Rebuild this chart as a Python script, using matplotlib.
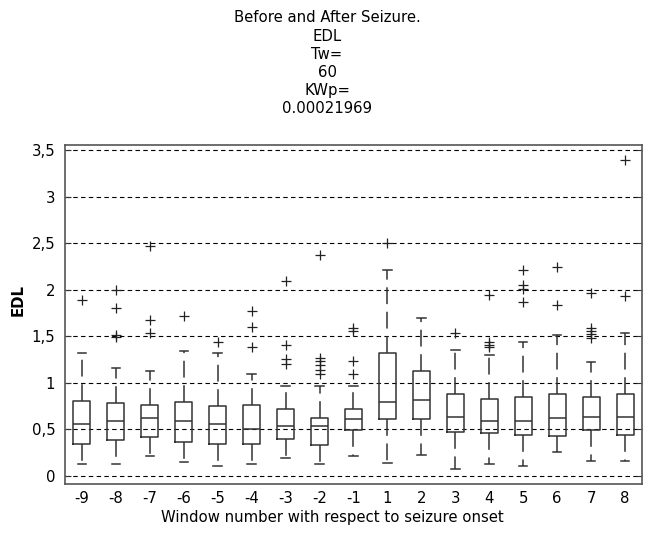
import matplotlib
matplotlib.use("Agg")
import matplotlib.pyplot as plt
from matplotlib import font_manager

# ---------------- data ----------------
windows = ["-9", "-8", "-7", "-6", "-5", "-4", "-3", "-2", "-1",
           "1", "2", "3", "4", "5", "6", "7", "8"]
q1 =      [0.34, 0.39, 0.42, 0.37, 0.34, 0.34, 0.40, 0.33, 0.49,
           0.61, 0.61, 0.47, 0.46, 0.44, 0.43, 0.49, 0.44]
median =  [0.56, 0.59, 0.62, 0.59, 0.56, 0.50, 0.54, 0.54, 0.61,
           0.79, 0.82, 0.63, 0.59, 0.59, 0.62, 0.63, 0.63]
q3 =      [0.80, 0.78, 0.76, 0.79, 0.75, 0.76, 0.72, 0.62, 0.72,
           1.32, 1.13, 0.88, 0.83, 0.85, 0.88, 0.85, 0.88]
whislo =  [0.13, 0.13, 0.22, 0.15, 0.11, 0.13, 0.19, 0.13, 0.22,
           0.14, 0.23, 0.08, 0.13, 0.11, 0.26, 0.16, 0.16]
whishi =  [1.32, 1.16, 1.13, 1.34, 1.32, 1.10, 0.97, 0.97, 0.97,
           2.21, 1.70, 1.35, 1.30, 1.44, 1.51, 1.22, 1.53]
outliers = [
    [1.89],
    [2.00, 1.80, 1.51, 1.49],
    [2.47, 1.67, 1.53],
    [1.72],
    [1.44],
    [1.77, 1.60, 1.38],
    [2.09, 1.41, 1.26, 1.20],
    [2.37, 1.27, 1.23, 1.19, 1.14, 1.09],
    [1.59, 1.56, 1.23, 1.10],
    [2.50],
    [],
    [1.53],
    [1.94, 1.44, 1.41, 1.38],
    [2.21, 2.05, 2.01, 1.87],
    [2.24, 1.84],
    [1.96, 1.59, 1.56, 1.52, 1.48],
    [3.39, 1.93],
]
y_ticks = [0, 0.5, 1, 1.5, 2, 2.5, 3, 3.5]
y_ticklabels = ["0", "0,5", "1", "1,5", "2", "2,5", "3", "3,5"]
title_lines = ["Before and After Seizure.", "EDL", "Tw=", "60", "KWp=", "0.00021969"]
xlabel = "Window number with respect to seizure onset"
ylabel = "EDL"

# ---------------- font ----------------
names = {f.name for f in font_manager.fontManager.ttflist}
fam = ["Liberation Sans Narrow", "DejaVu Sans"] if "Liberation Sans Narrow" in names else ["DejaVu Sans"]
plt.rcParams["font.family"] = fam
FS = 10.7

fig = plt.figure(figsize=(6.45, 5.33), dpi=100)
ax = fig.add_axes([65 / 645, 49 / 533, 577 / 645, 339 / 533])

stats = []
for i in range(len(windows)):
    stats.append(dict(q1=q1[i], med=median[i], q3=q3[i], whislo=whislo[i],
                      whishi=whishi[i], fliers=outliers[i], label=windows[i]))

ec = "#333333"
ax.bxp(stats, positions=range(1, len(windows) + 1), widths=0.5, capwidths=0.25,
       boxprops=dict(color=ec, lw=1.1),
       medianprops=dict(color=ec, lw=1.1),
       whiskerprops=dict(color=ec, lw=1.1, linestyle=(0, (11, 5))),
       capprops=dict(color=ec, lw=1.1),
       flierprops=dict(marker="+", markersize=7, markeredgecolor="#222222",
                       markeredgewidth=0.9, linestyle="none"))

ax.set_xlim(0.5, len(windows) + 0.5)
ax.set_ylim(-0.086, 3.554)
ax.set_yticks(y_ticks)
ax.set_yticklabels(y_ticklabels, fontsize=FS)
ax.set_xticks(range(1, len(windows) + 1))
ax.set_xticklabels(windows, fontsize=FS)
ax.tick_params(axis="y", direction="in", length=4, left=True, right=True, pad=7, color="#333333")
ax.tick_params(axis="x", length=0, pad=5)

for y in y_ticks:
    ax.axhline(y, color="black", lw=0.8, linestyle=(0, (4, 3)), zorder=0)

for s in ax.spines.values():
    s.set_color("#555555")
    s.set_linewidth(1.2)

ax.set_xlabel(xlabel, fontsize=FS, va="top")
ax.xaxis.set_label_coords(0.463, -0.076)
ax.set_ylabel(ylabel, fontsize=FS, fontweight="bold", va="center")
ax.yaxis.set_label_coords(-0.081, 0.543)

base0 = 22.4
for k, line in enumerate(title_lines):
    yb = base0 + k * 18.2
    fig.text(0.507, 1 - yb / 533, line, ha="center", va="baseline", fontsize=FS)

fig.savefig("out.png", dpi=100)
